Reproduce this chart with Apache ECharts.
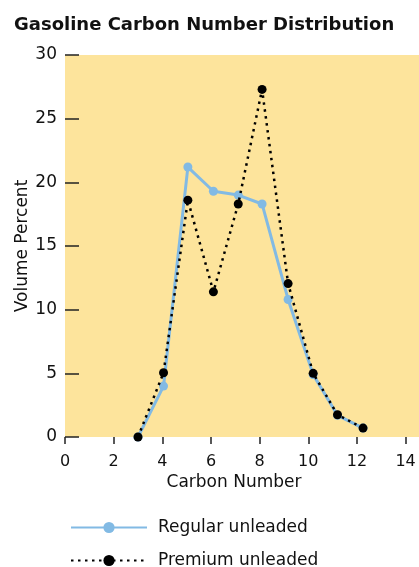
<!DOCTYPE html>
<html><head><meta charset="utf-8">
<script src="https://cdn.jsdelivr.net/npm/echarts@6/dist/echarts.min.js"></script>
<style>html,body{margin:0;padding:0;background:#fff}#c{width:419px;height:567px}</style>
</head><body><div id="c"></div>
<script>
var carbonNumbers = [3.0, 4.05, 5.05, 6.1, 7.12, 8.1, 9.17, 10.2, 11.2, 12.25];
var regularUnleaded = [0, 4.0, 21.2, 19.3, 19.0, 18.3, 10.8, 4.9, 1.7, 0.7];
var premiumUnleaded = [0, 5.05, 18.6, 11.4, 18.3, 27.3, 12.05, 5.0, 1.75, 0.7];
var xTicks = [0, 2, 4, 6, 8, 10, 12, 14];
var seriesNames = ['Regular unleaded', 'Premium unleaded'];

function pairs(xs, ys){ return xs.map(function(x,i){ return [x, ys[i]]; }); }

var FONT = 'DejaVu Sans';
var legendText = {fontFamily: FONT, fontSize: 17, color: '#111', padding: [0, 0, 0, 6]};
var chart = echarts.init(document.getElementById('c'), null, {renderer:'canvas'});
chart.setOption({
  animation: false,
  title: {
    text: 'Gasoline Carbon Number Distribution',
    left: 14, top: 16, padding: 0,
    textStyle: {fontFamily: FONT, fontWeight: 'bold', fontSize: 18, color: '#111'}
  },
  grid: {left: 65, top: 55, right: -3, bottom: 130, show: true, backgroundColor: '#FDE49C', borderWidth: 0},
  xAxis: {
    type: 'value', min: 0, max: 14.55, interval: 2,
    name: 'Carbon Number', nameLocation: 'middle', nameGap: 37, nameMoveOverlap: false,
    nameTextStyle: {fontFamily: FONT, fontSize: 17, color: '#111', padding: [0, 16, 0, 0]},
    axisLine: {show: false},
    axisTick: {show: true, inside: false, length: 7, lineStyle: {color: '#222', width: 1.5}, customValues: xTicks},
    axisLabel: {fontFamily: FONT, fontSize: 16, color: '#111', margin: 17, customValues: xTicks},
    splitLine: {show: false}
  },
  yAxis: {
    type: 'value', min: 0, max: 30, interval: 5,
    name: 'Volume Percent', nameLocation: 'middle', nameGap: 34, nameMoveOverlap: false,
    nameTextStyle: {fontFamily: FONT, fontSize: 17, color: '#111'},
    axisLine: {show: false},
    axisTick: {show: true, inside: true, length: 14, lineStyle: {color: '#222', width: 1.5}},
    axisLabel: {fontFamily: FONT, fontSize: 17, color: '#111', margin: 8},
    splitLine: {show: false}
  },
  legend: [
    {left: 65, top: 514, itemWidth: 76, itemHeight: 14, textStyle: legendText, data: [seriesNames[0]]},
    {left: 65, top: 547, itemWidth: 76, itemHeight: 14, textStyle: legendText, data: [seriesNames[1]]}
  ],
  series: [
    {
      name: seriesNames[0], type: 'line', data: pairs(carbonNumbers, regularUnleaded),
      symbol: 'circle', symbolSize: 9,
      itemStyle: {color: '#82BAE4'},
      lineStyle: {color: '#82BAE4', width: 3}, z: 2
    },
    {
      name: seriesNames[1], type: 'line', data: pairs(carbonNumbers, premiumUnleaded),
      symbol: 'circle', symbolSize: 9,
      itemStyle: {color: '#000'},
      lineStyle: {color: '#000', width: 2.5, type: [2.5, 4.5]}, z: 3
    }
  ]
});
</script></body></html>
